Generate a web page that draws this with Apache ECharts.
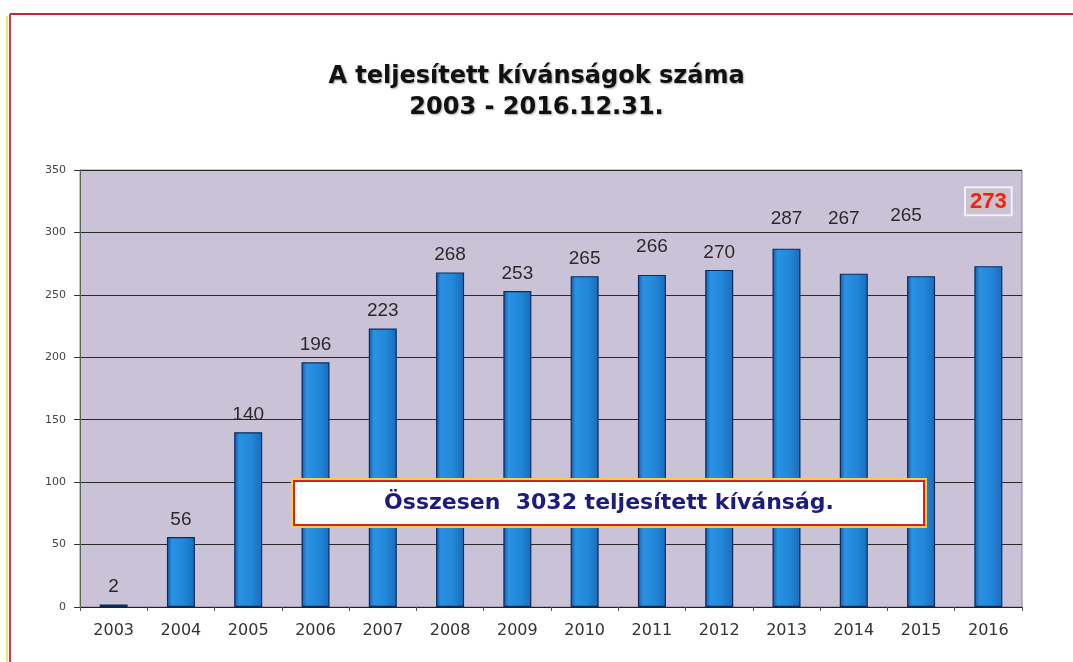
<!DOCTYPE html>
<html><head><meta charset="utf-8">
<script src="https://cdn.jsdelivr.net/npm/echarts@6/dist/echarts.min.js"></script>
<style>html,body{margin:0;padding:0;background:#fff}#c{width:1073px;height:662px}</style>
</head><body><div id="c"></div>
<script>
const titleLines = ['A teljesített kívánságok száma', '2003 - 2016.12.31.'];
const years = ['2003','2004','2005','2006','2007','2008','2009','2010','2011','2012','2013','2014','2015','2016'];
const counts = [2,56,140,196,223,268,253,265,266,270,287,267,265,273];
const yTicks = [0,50,100,150,200,250,300,350];
const totalText = 'Összesen  3032 teljesített kívánság.';

// manual label shifts as in the original (index -> [dx, dy])
const labelShift = {8:[0,-11],10:[0,-12],11:[-10,-37],12:[-15,-43],13:[0,-43]};
const lastIdx = counts.length - 1;

const chart = echarts.init(document.getElementById('c'), null, {renderer:'canvas'});
const barColor = new echarts.graphic.LinearGradient(0,0,1,0,[
  {offset:0,color:'#1858a8'},{offset:0.18,color:'#2a92e2'},{offset:0.6,color:'#2288da'},{offset:1,color:'#1a6cb8'}]);

const data = counts.map((v,i)=>{
  const s = labelShift[i] || [0,0];
  const item = {value:v, label:{offset:s}};
  if (i === lastIdx) {
    item.label = {offset:s, color:'#e8202c', fontWeight:'bold', fontSize:22,
      borderColor:'#f4f0f4', borderWidth:2, padding:[4,5,2,5],
      textShadowColor:'rgba(255,200,0,0.9)', textShadowBlur:2};
  }
  return item;
});

chart.setOption({
  animation:false,
  backgroundColor:'#ffffff',
  title:{text:titleLines.join('\n'), left:'center', top:56,
    textStyle:{fontFamily:'DejaVu Sans', fontSize:24, fontWeight:'bold', color:'#111',
      lineHeight:31, textShadowColor:'rgba(80,80,80,0.5)', textShadowBlur:2, textShadowOffsetX:1, textShadowOffsetY:1}},
  grid:{left:80, right:51, top:170, bottom:55, show:true, backgroundColor:'#cac2d7', borderColor:'#8a8498', borderWidth:1},
  xAxis:{type:'category', data:years,
    axisLine:{lineStyle:{color:'#222', width:1}},
    axisTick:{show:true, length:4, lineStyle:{color:'#555'}},
    axisLabel:{fontFamily:'DejaVu Sans', fontSize:16, color:'#333', margin:16}},
  yAxis:{type:'value', min:yTicks[0], max:yTicks[yTicks.length-1], interval:50,
    axisLine:{show:true, lineStyle:{color:'#556655'}},
    axisTick:{show:true, length:6, lineStyle:{color:'#333'}},
    axisLabel:{fontFamily:'DejaVu Sans', fontSize:11, color:'#444', margin:14},
    splitLine:{show:true, lineStyle:{color:'#2a2a2a', width:1}}},
  series:[{type:'bar', data:data, barWidth:28,
    itemStyle:{color:barColor, borderColor:'#0c2a5c', borderWidth:1.2},
    label:{show:true, position:'top', distance:8, fontFamily:'Liberation Sans, Arial', fontSize:19, color:'#2a2a2a'}}],
  graphic:[
    {type:'line', shape:{x1:10,y1:14,x2:1073,y2:14}, style:{stroke:'#d4203c', lineWidth:2}, z:100},
    {type:'line', shape:{x1:10,y1:14,x2:10,y2:662}, style:{stroke:'#c83c5c', lineWidth:2}, z:100},
    {type:'line', shape:{x1:7,y1:16,x2:7,y2:662}, style:{stroke:'#f6e46a', lineWidth:2}, z:100},
    {type:'rect', shape:{x:292,y:479,width:634,height:48}, style:{fill:'none', stroke:'#f2d040', lineWidth:2}, z:100},
    {type:'rect', shape:{x:294,y:481,width:630,height:44}, style:{fill:'#ffffff', stroke:'#d8202c', lineWidth:2}, z:101},
    {type:'text', x:609, y:503, style:{text:totalText, fill:'#1c1c80', font:'bold 22px "DejaVu Sans"',
      textAlign:'center', textVerticalAlign:'middle'}, z:102}
  ]
});
</script></body></html>
